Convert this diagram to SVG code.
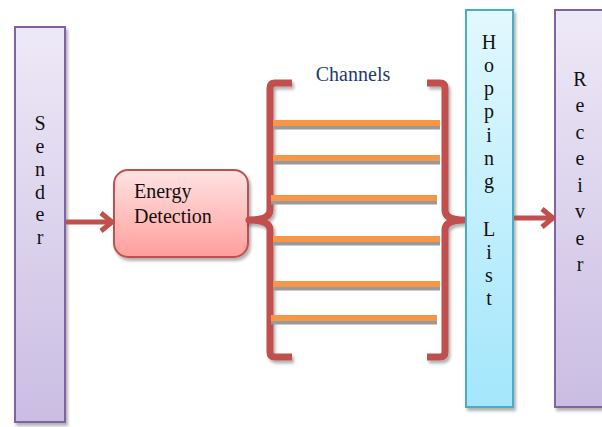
<svg xmlns="http://www.w3.org/2000/svg" width="602" height="427" viewBox="0 0 602 427">
  <defs>
    <linearGradient id="gPurple" x1="0" y1="0" x2="0" y2="1">
      <stop offset="0" stop-color="#eee9f7"/>
      <stop offset="1" stop-color="#cabde3"/>
    </linearGradient>
    <linearGradient id="gCyan" x1="0" y1="0" x2="0" y2="1">
      <stop offset="0" stop-color="#e2f8fe"/>
      <stop offset="1" stop-color="#a3e6fb"/>
    </linearGradient>
    <linearGradient id="gRed" x1="0" y1="0" x2="0" y2="1">
      <stop offset="0" stop-color="#ffe3e3"/>
      <stop offset="1" stop-color="#ff9e9c"/>
    </linearGradient>
    <filter id="shadow" x="-20%" y="-10%" width="140%" height="120%">
      <feDropShadow dx="2" dy="3" stdDeviation="1.5" flood-color="#000" flood-opacity="0.3"/>
    </filter>
    <marker id="chev" viewBox="0 0 16 24" refX="13" refY="12" markerWidth="16" markerHeight="24" markerUnits="userSpaceOnUse" orient="auto">
      <path d="M2,3 L13,12 L2,21" fill="none" stroke="#c0504d" stroke-width="5"/>
    </marker>
  </defs>
  <style>
    .bar { stroke-width: 2; }
    .purple { fill: url(#gPurple); stroke: #8064a2; }
    .cyan { fill: url(#gCyan); stroke: #4bacc6; }
    .vtext { font-family: "Liberation Serif", "Times New Roman", serif; font-size: 20px; fill: #111; text-anchor: middle; }
    .label { font-family: "Liberation Serif", "Times New Roman", serif; font-size: 20px; fill: #111; }
    .arrow { stroke: #c0504d; stroke-width: 5; fill: none; marker-end: url(#chev); }
    .brace { stroke: #c0504d; stroke-width: 7; fill: none; stroke-linejoin: round; }
    .chan { stroke: #f79646; stroke-width: 6; }
    .chanShadow { stroke: #9a9a9a; stroke-width: 5; }
  </style>

  <rect width="602" height="427" fill="#ffffff"/>

  <!-- Sender -->
  <g id="sender">
    <rect class="bar purple" x="15" y="27" width="50" height="395" filter="url(#shadow)"/>
    <text class="vtext" x="40" y="130">S</text>
    <text class="vtext" x="40" y="153">e</text>
    <text class="vtext" x="40" y="176">n</text>
    <text class="vtext" x="40" y="199">d</text>
    <text class="vtext" x="40" y="221">e</text>
    <text class="vtext" x="40" y="244">r</text>
  </g>

  <!-- Energy Detection -->
  <g id="energy-detection">
    <rect x="114" y="170" width="134" height="87" rx="14" ry="14" fill="url(#gRed)" stroke="#c0504d" stroke-width="2" filter="url(#shadow)"/>
    <text class="label" x="134" y="198">Energy</text>
    <text class="label" x="134" y="223">Detection</text>
  </g>

  <!-- Channels -->
  <g id="channels">
    <text x="353" y="81" font-family="'Liberation Serif', 'Times New Roman', serif" font-size="20" fill="#1f3a6e" text-anchor="middle">Channels</text>
    <g filter="url(#shadow)">
      <path class="brace" d="M292,83 H275 Q270,83 270,88 V210 Q270,220 249,220 Q270,220 270,230 V352 Q270,357 275,357 H292"/>
      <path class="brace" d="M427,83 H440 Q445,83 445,88 V210 Q445,220 464,220 Q445,220 445,230 V352 Q445,357 440,357 H427"/>
    </g>
    <g>
      <line class="chanShadow" x1="273" y1="127" x2="440" y2="127"/>
      <line class="chan" x1="273" y1="123" x2="440" y2="123"/>
      <line class="chanShadow" x1="273" y1="162" x2="440" y2="162"/>
      <line class="chan" x1="273" y1="158" x2="440" y2="158"/>
      <line class="chanShadow" x1="271" y1="202" x2="437" y2="202"/>
      <line class="chan" x1="271" y1="198" x2="437" y2="198"/>
      <line class="chanShadow" x1="273" y1="243" x2="440" y2="243"/>
      <line class="chan" x1="273" y1="239" x2="440" y2="239"/>
      <line class="chanShadow" x1="273" y1="288" x2="440" y2="288"/>
      <line class="chan" x1="273" y1="284" x2="440" y2="284"/>
      <line class="chanShadow" x1="271" y1="322" x2="437" y2="322"/>
      <line class="chan" x1="271" y1="318" x2="437" y2="318"/>
    </g>
  </g>

  <!-- Hopping List -->
  <g id="hopping-list">
    <rect class="bar cyan" x="466" y="10" width="47" height="397" filter="url(#shadow)"/>
    <text class="vtext" x="489" y="49">H</text>
    <text class="vtext" x="489" y="72">o</text>
    <text class="vtext" x="489" y="95">p</text>
    <text class="vtext" x="489" y="118">p</text>
    <text class="vtext" x="489" y="142">i</text>
    <text class="vtext" x="489" y="165">n</text>
    <text class="vtext" x="489" y="188">g</text>
    <text class="vtext" x="489" y="236">L</text>
    <text class="vtext" x="489" y="259">i</text>
    <text class="vtext" x="489" y="282">s</text>
    <text class="vtext" x="489" y="305">t</text>
  </g>

  <!-- Receiver -->
  <g id="receiver">
    <rect class="bar purple" x="555" y="10" width="52" height="397" filter="url(#shadow)"/>
    <text class="vtext" x="580" y="86" font-size="21">R</text>
    <text class="vtext" x="580" y="112" font-size="21">e</text>
    <text class="vtext" x="580" y="139" font-size="21">c</text>
    <text class="vtext" x="580" y="165" font-size="21">e</text>
    <text class="vtext" x="580" y="192" font-size="21">i</text>
    <text class="vtext" x="580" y="218" font-size="21">v</text>
    <text class="vtext" x="580" y="245" font-size="21">e</text>
    <text class="vtext" x="580" y="271" font-size="21">r</text>
  </g>

  <!-- Connectors -->
  <g id="connectors">
    <line class="arrow" x1="66" y1="222" x2="112" y2="222"/>
    <line class="arrow" x1="514" y1="218" x2="553" y2="218"/>
  </g>
</svg>
